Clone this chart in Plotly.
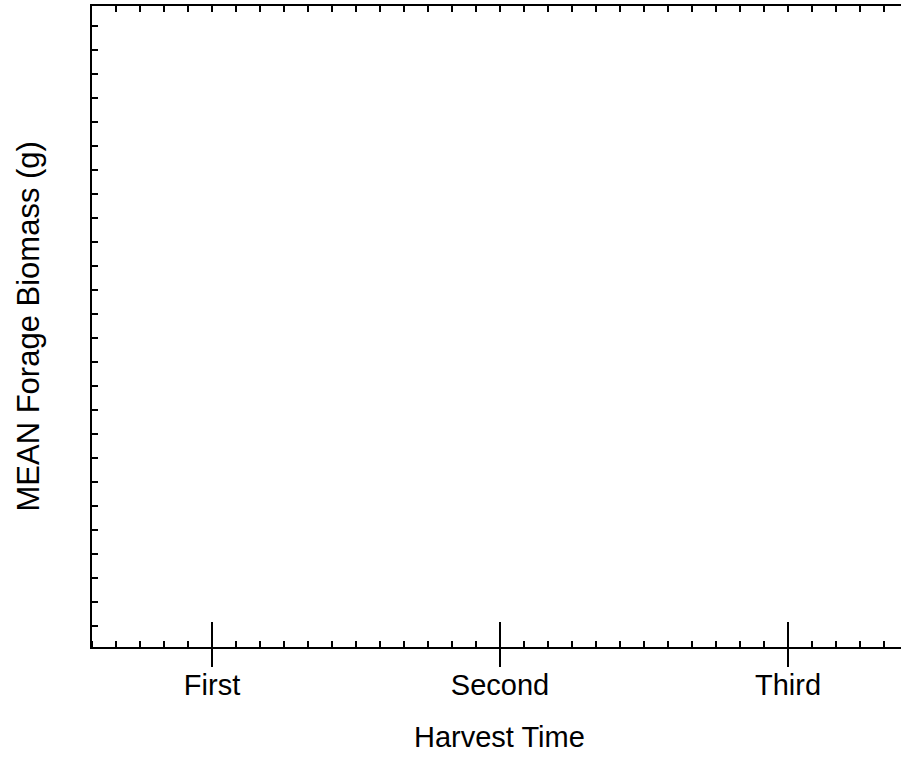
import plotly.graph_objects as go

# Data (the reference chart shows empty axes: no series values are plotted)
categories = ["First", "Second", "Third"]
cat_pos = [0, 1, 2]
mean_biomass = []          # no plotted values visible in the reference
x_title = "Harvest Time"
y_title = "MEAN Forage Biomass (g)"

FONT = "Liberation Sans"
W, H = 901, 757
L, R, T, B = 92, 0, 6, 110
PW, PH = W - L - R, H - T - B

fig = go.Figure()
fig.add_trace(go.Scatter(x=[], y=mean_biomass, xaxis="x", yaxis="y", showlegend=False))
fig.add_trace(go.Scatter(x=[], y=[], xaxis="x2", yaxis="y", showlegend=False))
fig.add_trace(go.Scatter(x=[], y=[], xaxis="x3", yaxis="y", showlegend=False))

xr = [-120 / 288, (901 - 212) / 288]
common_x = dict(range=xr, showgrid=False, zeroline=False, automargin=False)

fig.update_layout(
    width=W, height=H,
    margin=dict(l=L, r=R, t=T, b=B, pad=0, autoexpand=False),
    paper_bgcolor="white", plot_bgcolor="white",
    font=dict(family=FONT, size=29, color="black"),
    showlegend=False,
    xaxis=dict(
        **common_x,
        tickmode="array", tickvals=cat_pos, ticktext=categories,
        ticks="outside", ticklen=18, tickwidth=2, tickcolor="black",
        ticklabelstandoff=-7,
        showline=True, linewidth=2, linecolor="black", mirror=True,
        tickfont=dict(family=FONT, size=29, color="black"),
        minor=dict(ticks="inside", ticklen=6, tickwidth=2, tickcolor="black",
                   tickmode="linear", tick0=0, dtick=1 / 12),
    ),
    xaxis2=dict(
        **common_x, overlaying="x", anchor="y", side="bottom",
        tickmode="array", tickvals=cat_pos, showticklabels=False,
        ticks="inside", ticklen=25, tickwidth=2, tickcolor="black",
        showline=False,
    ),
    xaxis3=dict(
        **common_x, overlaying="x", anchor="y", side="top",
        tickmode="linear", tick0=0, dtick=1 / 12, showticklabels=False,
        ticks="inside", ticklen=6, tickwidth=2, tickcolor="black",
        showline=False,
    ),
    yaxis=dict(
        range=[-21, 620], showgrid=False, zeroline=False, automargin=False,
        tickmode="linear", tick0=0, dtick=24, showticklabels=False,
        ticks="inside", ticklen=6, tickwidth=2, tickcolor="black",
        showline=True, linewidth=2, linecolor="black", mirror=False,
    ),
    annotations=[
        dict(text=x_title, xref="paper", yref="paper",
             x=(500 - L) / PW, y=(PH + T - 737) / PH,
             xanchor="center", yanchor="middle", showarrow=False,
             font=dict(family=FONT, size=29, color="black")),
        dict(text=y_title, xref="paper", yref="paper",
             x=(28 - L) / PW, y=0.5, textangle=-90,
             xanchor="center", yanchor="middle", showarrow=False,
             font=dict(family=FONT, size=31, color="black")),
    ],
)

fig.write_html(
    "out.html",
    config={"displayModeBar": False, "staticPlot": True},
    post_script="document.body.style.margin='0';document.body.style.overflow='hidden';",
)
